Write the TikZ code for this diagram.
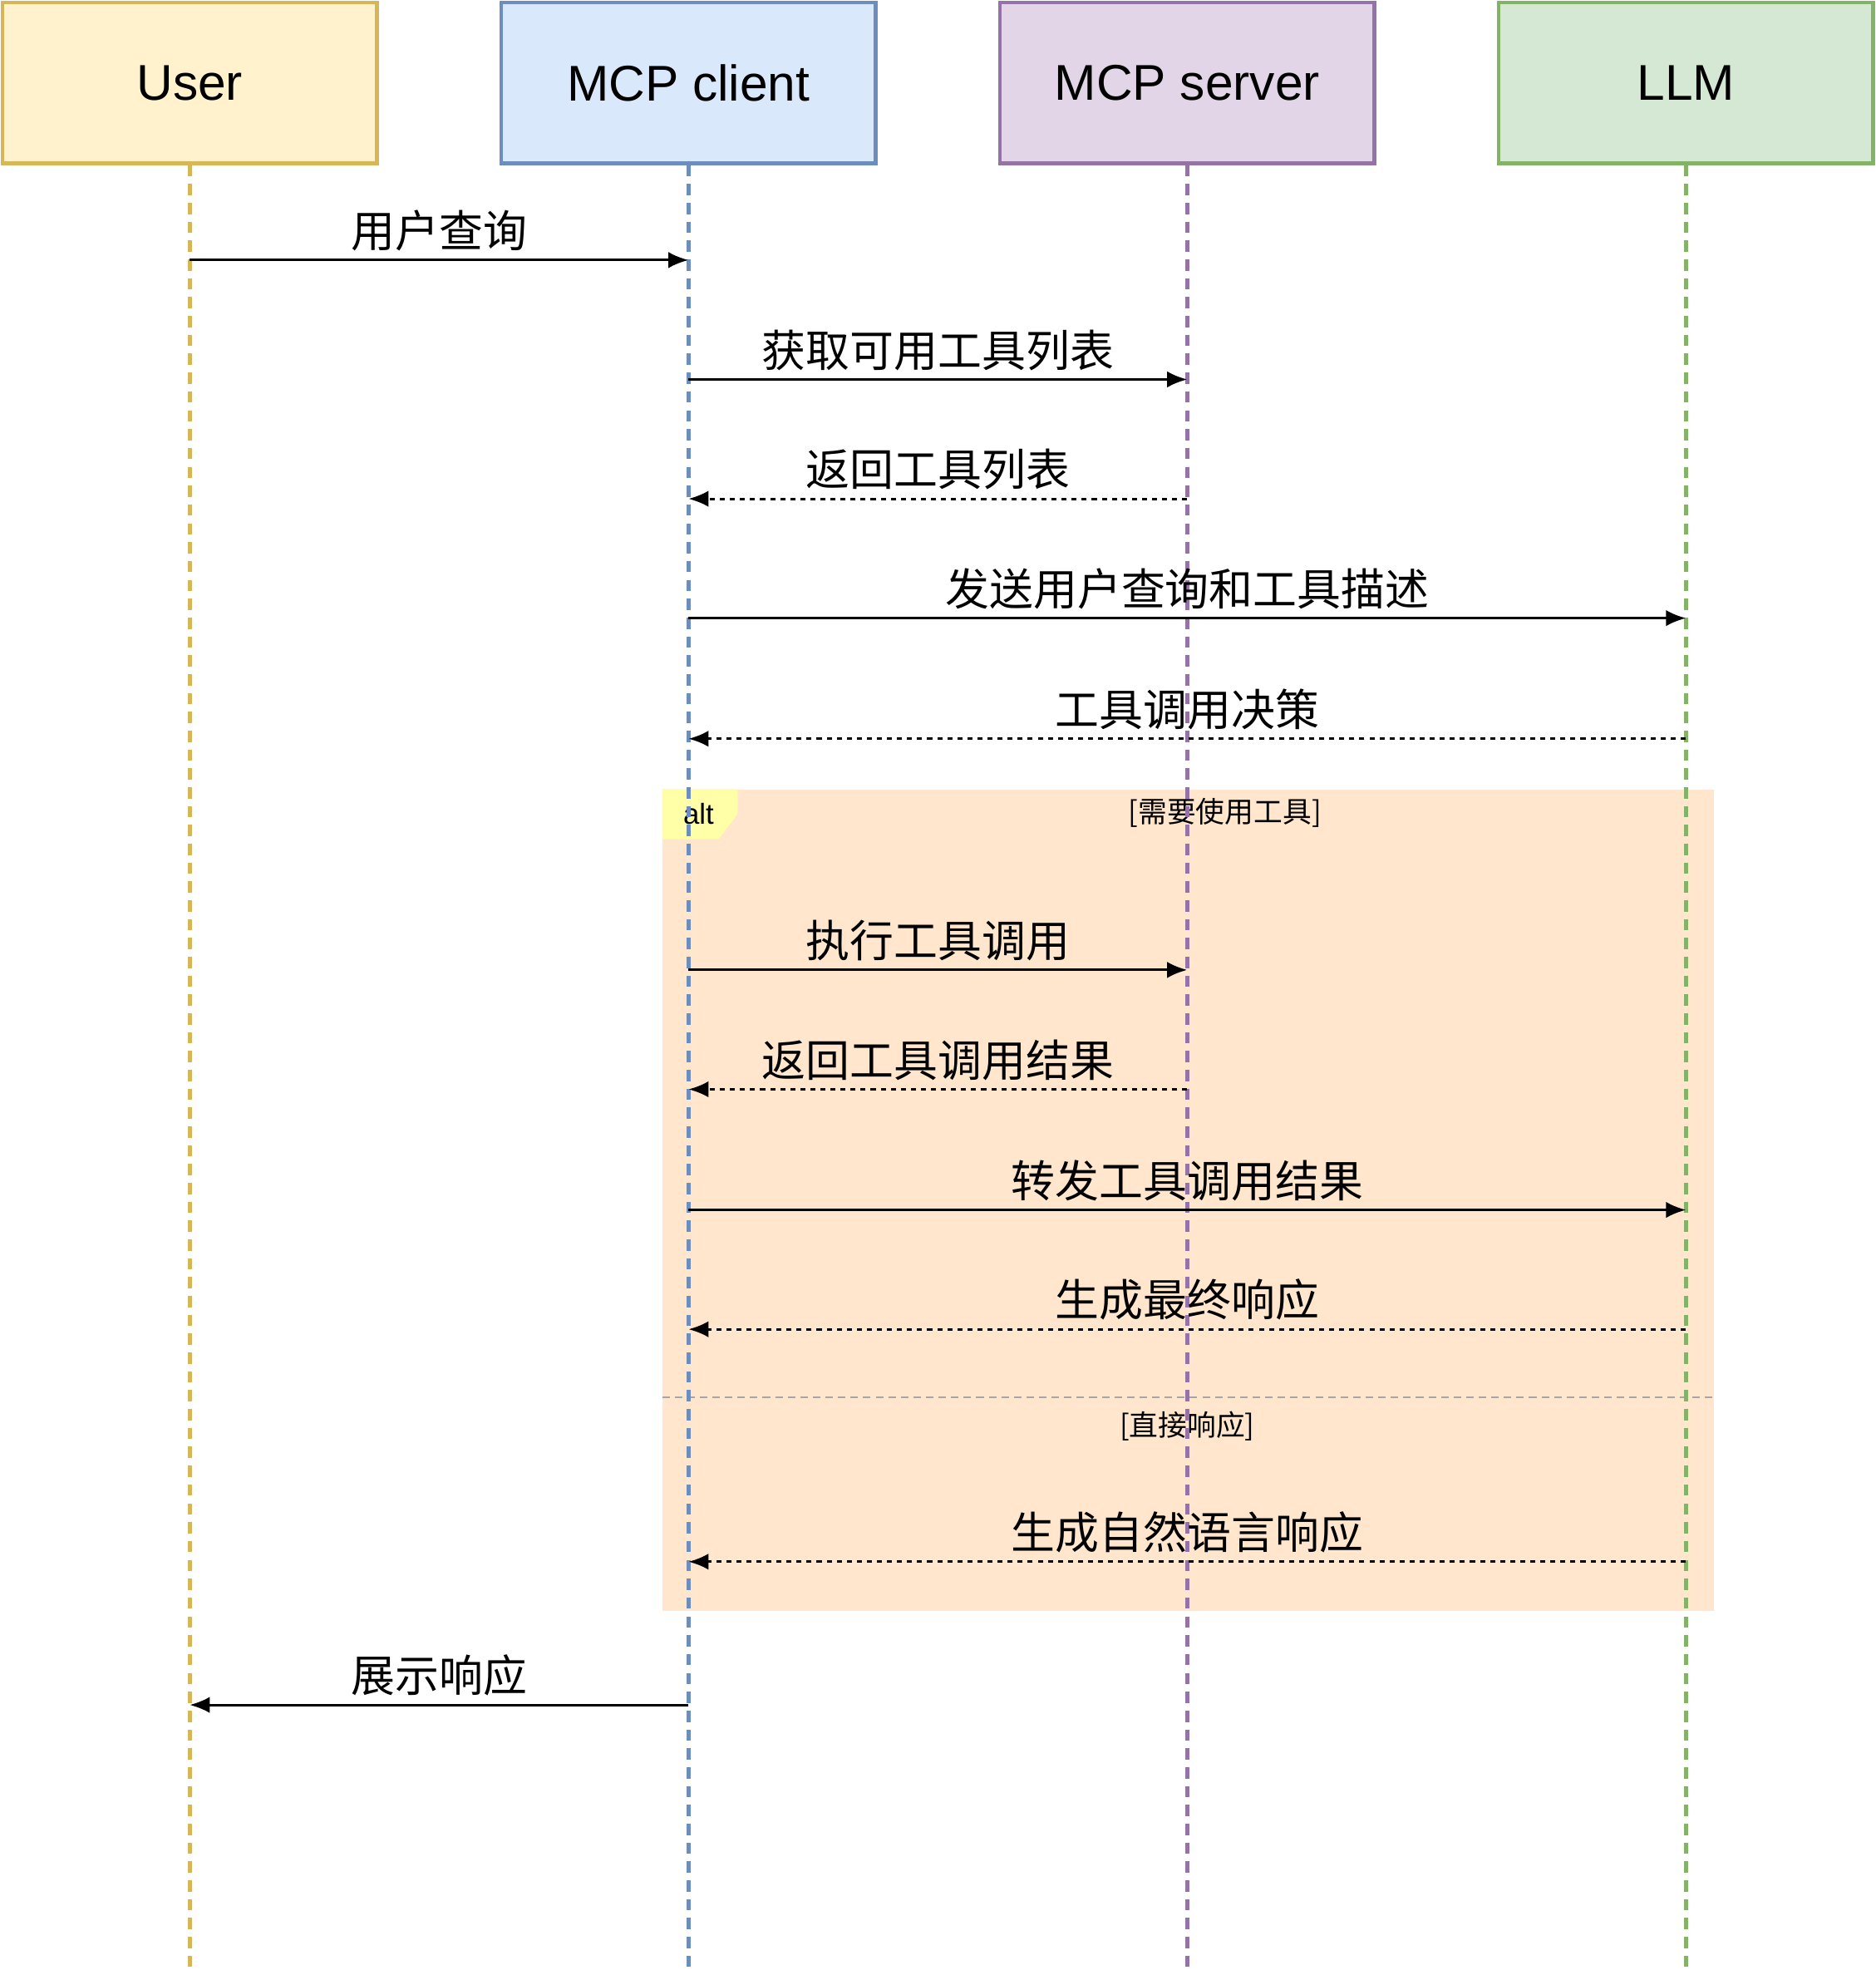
\documentclass[tikz,border=0pt]{standalone}
\usepackage{fontspec}
\setmainfont{Liberation Sans}
\newfontfamily\cjk{Noto Sans CJK SC}
\usetikzlibrary{arrows.meta}
\definecolor{uf}{HTML}{FFF2CC}\definecolor{us}{HTML}{D6B656}
\definecolor{cf}{HTML}{DAE8FC}\definecolor{cs}{HTML}{6C8EBF}
\definecolor{sf}{HTML}{E1D5E7}\definecolor{ss}{HTML}{9673A6}
\definecolor{lf}{HTML}{D5E8D4}\definecolor{ls}{HTML}{82B366}
\definecolor{altf}{HTML}{FFE6CC}\definecolor{tabf}{HTML}{FFFFA8}
\begin{document}
\begin{tikzpicture}[x=1pt,y=-1pt,
  actor/.style={draw=#1,line width=3pt,minimum width=298pt,minimum height=128pt,inner sep=0pt,font=\fontsize{40}{48}\selectfont},
  life/.style={draw=#1,line width=3pt,dash pattern=on 9pt off 6pt},
  msg/.style={line width=2pt,-{Latex[length=16pt,width=13pt]}},
  ret/.style={msg,dash pattern=on 4pt off 4pt},
  lab/.style={font=\cjk\fontsize{35}{40}\selectfont,inner sep=0pt,anchor=south},
  small/.style={font=\cjk\fontsize{23}{26}\selectfont,inner sep=0pt}]
\useasboundingbox (0,0) rectangle (1493,1568);
% alt frame
\node[fill=altf,minimum width=837pt,minimum height=654pt,inner sep=0pt,anchor=north west] (alt) at (527,628) {};
\fill[tabf] (527,628) -- (587,628) -- (587,648) -- (572,668) -- (527,668) -- cycle;
\node[font=\fontsize{23}{26}\selectfont,inner sep=0pt] (altl) at (556,648) {alt};
\node[small] (g1) at (975,647) {[需要使用工具]};
\coordinate (sepL) at (527,1112); \coordinate (sepR) at (1364,1112);
\draw[gray!70,line width=1.5pt,dash pattern=on 6pt off 4pt] (sepL) -- (sepR);
\node[small] (g2) at (945,1135) {[直接响应]};
% actors
\node[actor=us,fill=uf] (U) at (151,66) {User};
\node[actor=cs,fill=cf] (C) at (548,66) {MCP client};
\node[actor=ss,fill=sf] (S) at (945,66) {MCP server};
\node[actor=ls,fill=lf] (L) at (1342,66) {LLM};
\coordinate (Ue) at (151,1568); \coordinate (Ce) at (548,1568);
\coordinate (Se) at (945,1568); \coordinate (Le) at (1342,1568);
\draw[life=us] (U.south) -- (Ue);
\draw[life=cs] (C.south) -- (Ce);
\draw[life=ss] (S.south) -- (Se);
\draw[life=ls] (L.south) -- (Le);
% message anchors
\foreach \n/\y in {1/207,2/302,3/397,4/492,5/588,6/772,7/867,8/963,9/1058,10/1243,11/1357}{
  \coordinate (u\n) at (151,\y); \coordinate (c\n) at (548,\y);
  \coordinate (s\n) at (945,\y); \coordinate (l\n) at (1342,\y);}
\draw[msg] (u1) -- node[lab,above=6pt] {用户查询} (c1);
\draw[msg] (c2) -- node[lab,above=6pt] {获取可用工具列表} (s2);
\draw[ret] (s3) -- node[lab,above=6pt] {返回工具列表} (c3);
\draw[msg] (c4) -- node[lab,above=6pt] {发送用户查询和工具描述} (l4);
\draw[ret] (l5) -- node[lab,above=6pt] {工具调用决策} (c5);
\draw[msg] (c6) -- node[lab,above=6pt] {执行工具调用} (s6);
\draw[ret] (s7) -- node[lab,above=6pt] {返回工具调用结果} (c7);
\draw[msg] (c8) -- node[lab,above=6pt] {转发工具调用结果} (l8);
\draw[ret] (l9) -- node[lab,above=6pt] {生成最终响应} (c9);
\draw[ret] (l10) -- node[lab,above=6pt] {生成自然语言响应} (c10);
\draw[msg] (c11) -- node[lab,above=6pt] {展示响应} (u11);
\end{tikzpicture}
\end{document}
